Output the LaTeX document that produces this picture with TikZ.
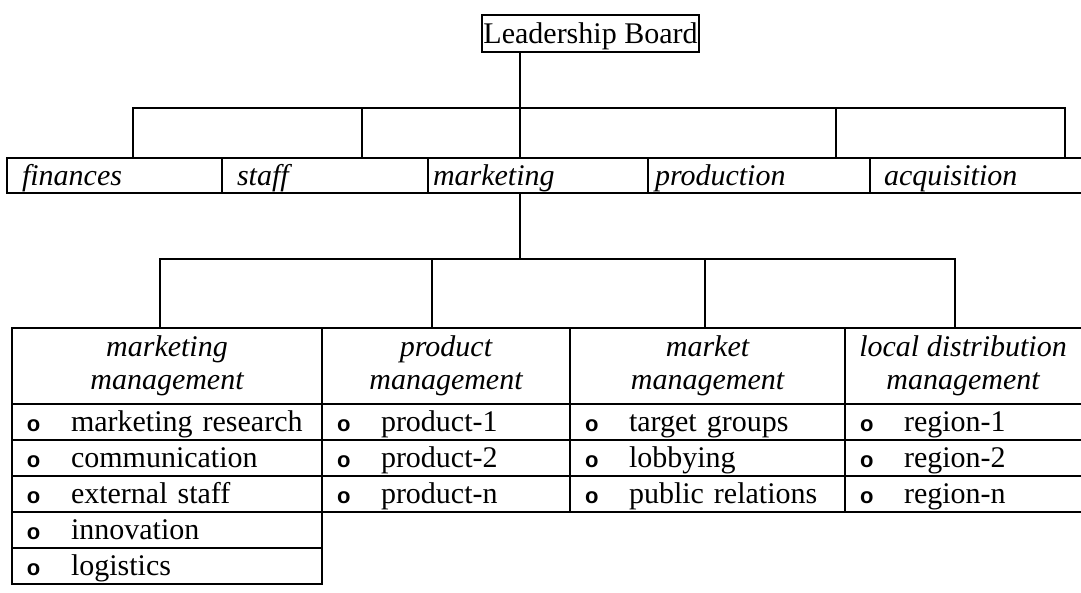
\documentclass[tikz,border=0pt]{standalone}
\usepackage{fontspec}
\setmainfont{Liberation Serif}
\newfontfamily\bulfont{Liberation Sans}
\newcommand\itembul{\makebox[44pt][l]{\bulfont\fontsize{22}{22}\selectfont\bfseries o}}
\begin{document}
\begin{tikzpicture}[x=1pt,y=-1pt,
  every node/.style={inner sep=0pt, outer sep=0pt},
  ln/.style={line width=1.4pt},
  boxed/.style={draw, line width=1.4pt},
  board/.style={draw, line width=1.2pt, anchor=north west, minimum width=217pt,
    minimum height=37pt, text height=28pt, text depth=9pt,
    font=\fontsize{30}{33}\selectfont},
  lone/.style={anchor=north west, minimum height=35pt, text height=27pt,
    text depth=8pt, align=left, font=\itshape\fontsize{30}{33}\selectfont},
  head/.style={anchor=north west, minimum height=76pt, align=center,
    font=\itshape\fontsize{30}{33}\selectfont},
  item/.style={anchor=north west, minimum height=36pt, text height=27pt,
    text depth=9pt, align=left, inner xsep=15pt,
    font=\fontsize{30}{33}\selectfont},
  cA/.style={minimum width=310pt, text width=280pt},
  cB/.style={minimum width=248pt, text width=218pt},
  cC/.style={minimum width=275pt, text width=245pt},
  cD/.style={minimum width=236pt, text width=206pt},
]
\useasboundingbox (0,0) rectangle (1081,592);

% top
\node[board] (board) at (482,15) {Leadership Board};

% level 1
\node[lone,boxed,minimum width=215pt,text width=185pt,inner xsep=15pt] (fin) at (7,158) {finances};
\node[lone,boxed,minimum width=206pt,text width=176pt,inner xsep=15pt] (stf) at (222,158) {staff};
\node[lone,boxed,minimum width=220pt,text width=210pt,inner xsep=5pt] (mkt) at (428,158) {marketing};
\node[lone,boxed,minimum width=222pt,text width=208pt,inner xsep=7pt] (prd) at (648,158) {production};
\node[lone,minimum width=211pt,text width=183pt,inner xsep=14pt] (acq) at (870,158) {acquisition};
\draw[ln] (acq.north west) -- (acq.north east) (acq.south west) -- (acq.south east);

% level 1 connectors
\coordinate (t1) at (520,108);
\coordinate (bL) at (133,108);
\coordinate (bR) at (1065,108);
\coordinate (b2) at (362,108);
\coordinate (b4) at (836,108);
\draw[ln] (board.south -| t1) -- (mkt.north -| t1);
\draw[ln] (fin.north -| bL) -- (bL) -- (bR) -- (acq.north -| bR);
\draw[ln] (b2) -- (b2 |- stf.north);
\draw[ln] (b4) -- (b4 |- prd.north);

% level 2 headers
\node[head,boxed,minimum width=310pt] (h1) at (12,328) {marketing\\management};
\node[head,boxed,minimum width=248pt] (h2) at (322,328) {product\\management};
\node[head,boxed,minimum width=275pt] (h3) at (570,328) {market\\management};
\node[head,minimum width=236pt] (h4) at (845,328) {local distribution\\management};
\draw[ln] (h4.north west) -- (h4.north east) (h4.south west) -- (h4.south east);

% level 2 connectors
\coordinate (t2) at (520,259);
\coordinate (cL) at (160,259);
\coordinate (cR) at (955,259);
\coordinate (c2) at (432,259);
\coordinate (c3) at (705,259);
\draw[ln] (mkt.south -| t2) -- (t2);
\draw[ln] (h1.north -| cL) -- (cL) -- (cR) -- (h4.north -| cR);
\draw[ln] (c2) -- (c2 |- h2.north);
\draw[ln] (c3) -- (c3 |- h3.north);

% column 1
\node[item,boxed,cA] (a1) at (12,404) {\itembul marketing research};
\node[item,boxed,cA] (a2) at (12,440) {\itembul communication};
\node[item,boxed,cA] (a3) at (12,476) {\itembul external staff};
\node[item,boxed,cA] (a4) at (12,512) {\itembul innovation};
\node[item,boxed,cA] (a5) at (12,548) {\itembul logistics};

% column 2
\node[item,boxed,cB] (p1) at (322,404) {\itembul product-1};
\node[item,boxed,cB] (p2) at (322,440) {\itembul product-2};
\node[item,boxed,cB] (p3) at (322,476) {\itembul product-n};

% column 3
\node[item,boxed,cC] (m1) at (570,404) {\itembul target groups};
\node[item,boxed,cC] (m2) at (570,440) {\itembul lobbying};
\node[item,boxed,cC] (m3) at (570,476) {\itembul public relations};

% column 4
\node[item,cD] (r1) at (845,404) {\itembul region-1};
\node[item,cD] (r2) at (845,440) {\itembul region-2};
\node[item,cD] (r3) at (845,476) {\itembul region-n};
\draw[ln] (r1.north west) -- (r1.north east)
          (r1.south west) -- (r1.south east)
          (r2.south west) -- (r2.south east)
          (r3.south west) -- (r3.south east);
\end{tikzpicture}
\end{document}
